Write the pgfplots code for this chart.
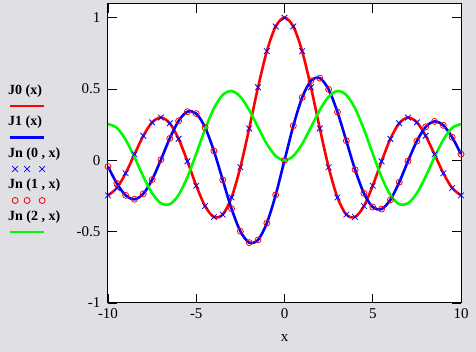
\documentclass[border=0pt]{standalone}
\usepackage{pgfplots}
\pgfplotsset{compat=1.18}
\usepackage{pgfplotstable}
\usepackage{fontspec}
\setmainfont{Liberation Serif}
\definecolor{bg}{RGB}{224,223,227}
\definecolor{mred}{RGB}{255,0,0}
\definecolor{mblue}{RGB}{0,0,255}
\definecolor{mgreen}{RGB}{0,250,0}
\pgfplotsset{
  lineleg/.style={legend image code/.code={\draw[##1,overlay] (2pt,-15pt) -- (36pt,-15pt);}},
  markleg/.style={legend image code/.code={\draw[##1,overlay] plot coordinates {(7pt,-15pt) (19pt,-15pt) (34pt,-15pt)};}},
}

\pgfplotstableread{
x J0 J1 J2
-10 -0.2459 -0.0435 0.2546
-9.5 -0.1939 -0.1613 0.2279
-9 -0.0903 -0.2453 0.1448
-8.5 0.0419 -0.2731 0.0223
-8 0.1717 -0.2346 -0.1130
-7.5 0.2663 -0.1352 -0.2303
-7 0.3001 0.0047 -0.3014
-6.5 0.2601 0.1538 -0.3074
-6 0.1506 0.2767 -0.2429
-5.5 -0.0068 0.3414 -0.1173
-5 -0.1776 0.3276 0.0466
-4.5 -0.3205 0.2311 0.2178
-4 -0.3971 0.0660 0.3641
-3.5 -0.3801 -0.1374 0.4586
-3 -0.2601 -0.3391 0.4861
-2.5 -0.0484 -0.4971 0.4461
-2 0.2239 -0.5767 0.3528
-1.5 0.5118 -0.5579 0.2321
-1 0.7652 -0.4401 0.1149
-0.5 0.9385 -0.2423 0.0306
0 1.0000 0.0000 0.0000
0.5 0.9385 0.2423 0.0306
1 0.7652 0.4401 0.1149
1.5 0.5118 0.5579 0.2321
2 0.2239 0.5767 0.3528
2.5 -0.0484 0.4971 0.4461
3 -0.2601 0.3391 0.4861
3.5 -0.3801 0.1374 0.4586
4 -0.3971 -0.0660 0.3641
4.5 -0.3205 -0.2311 0.2178
5 -0.1776 -0.3276 0.0466
5.5 -0.0068 -0.3414 -0.1173
6 0.1506 -0.2767 -0.2429
6.5 0.2601 -0.1538 -0.3074
7 0.3001 -0.0047 -0.3014
7.5 0.2663 0.1352 -0.2303
8 0.1717 0.2346 -0.1130
8.5 0.0419 0.2731 0.0223
9 -0.0903 0.2453 0.1448
9.5 -0.1939 0.1613 0.2279
10 -0.2459 0.0435 0.2546
}\besseltable

\begin{document}
\begin{tikzpicture}[x=1pt,y=1pt]
\fill[bg] (0,0) rectangle (476,352);
\begin{axis}[
  at={(108pt,49pt)}, anchor=south west,
  width=353pt, height=299pt, scale only axis,
  xmin=-10, xmax=10, ymin=-1, ymax=1.096,
  xtick={-10,-5,0,5,10}, ytick={-1,-0.5,0,0.5,1},
  tick align=inside, major tick length=9pt,
  tick style={black, line width=0.8pt},
  axis line style={black, line width=1pt},
  axis background/.style={fill=white},
  ticklabel style={font=\fontsize{15}{17}\selectfont},
  xticklabel style={yshift=-2pt},
  yticklabel style={xshift=-4pt},
  /pgf/number format/assume math mode=true,
  xlabel={x},
  xlabel style={font=\fontsize{15}{17}\selectfont, at={(axis description cs:0.5,0)}, anchor=base, yshift=-39pt},
  legend style={at={(axis description cs:-0.292,0.739)}, anchor=north west, draw=none, fill=none,
    font=\fontsize{14}{16}\selectfont\bfseries, row sep=18pt,
    nodes={inner sep=0pt, text height=10pt, text depth=3.5pt}},
  legend cell align=left,
]
\addplot[mred, line width=2.6pt, smooth, lineleg] table[x=x,y=J0] {\besseltable};
\addlegendentry{J0 (x)}
\addplot[mblue, line width=2.6pt, smooth, lineleg] table[x=x,y=J1] {\besseltable};
\addlegendentry{J1 (x)}
\addplot[mblue, only marks, mark=x, mark size=4pt, line width=0.8pt, markleg] table[x=x,y=J0] {\besseltable};
\addlegendentry{Jn (0 , x)}
\addplot[mred, only marks, mark=o, mark size=3pt, line width=0.8pt, markleg] table[x=x,y=J1] {\besseltable};
\addlegendentry{Jn (1 , x)}
\addplot[mgreen, line width=2.6pt, smooth, lineleg] table[x=x,y=J2] {\besseltable};
\addlegendentry{Jn (2 , x)}
\end{axis}
\end{tikzpicture}
\end{document}
